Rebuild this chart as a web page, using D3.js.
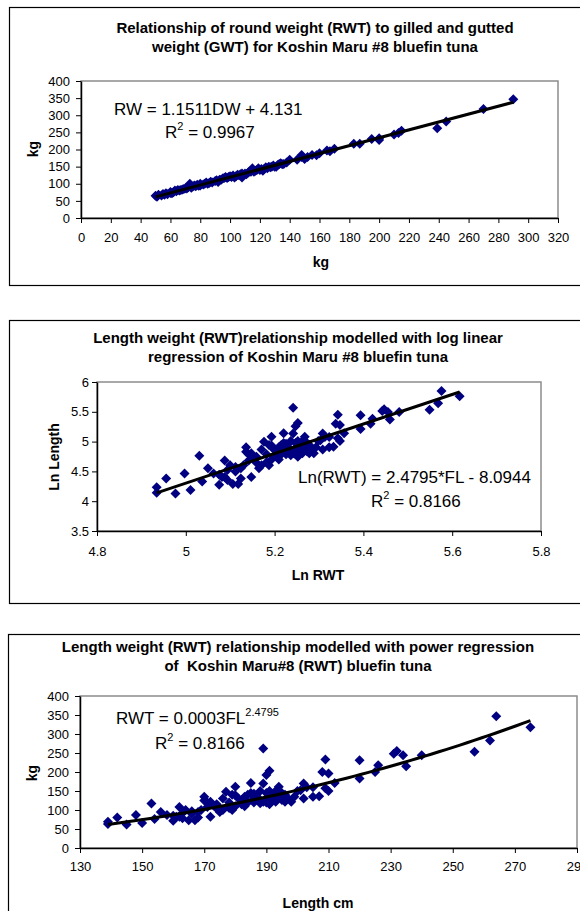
<!DOCTYPE html>
<html>
<head>
<meta charset="utf-8">
<script src="https://cdn.jsdelivr.net/npm/d3@7"></script>
<style>
  body { margin: 0; background: #fff; }
  svg { display: block; font-family: "Liberation Sans", Arial, sans-serif; }
</style>
</head>
<body>
<div id="chart"></div>
<script>
// panel 1: gilled and gutted weight (x) vs round weight (y), kg
var gwt = [50, 51, 52, 54, 55, 57, 58, 60, 60, 62, 63, 64, 65, 66, 67, 68, 70, 71, 72, 73, 73, 75, 76, 77, 78, 80, 80, 82, 83, 84,
  85, 86, 88, 90, 91, 92, 94, 95, 96, 97, 98, 100, 101, 102, 104, 105, 106, 108, 108, 110, 112, 114, 115, 115, 116, 118, 120, 121, 122, 124,
  125, 127, 128, 130, 132, 134, 135, 138, 140, 145, 148, 148, 150, 152, 155, 158, 160, 165, 167, 170, 183, 187, 195, 200, 200, 210, 213, 215, 239, 245,
  270, 290, 56, 61, 69, 74, 79, 87, 93, 99, 103, 107, 111, 113, 117, 119, 123, 126, 129, 131, 133, 136];
var rwt = [65, 62, 68, 66, 70, 72, 69, 73, 76, 75, 80, 78, 82, 80, 82, 83, 87, 86, 90, 95, 100, 92, 95, 93, 97, 95, 100, 98, 100, 104,
  100, 102, 104, 108, 110, 105, 112, 115, 117, 120, 117, 122, 120, 124, 122, 126, 125, 118, 130, 130, 132, 135, 140, 145, 135, 140, 140, 143, 138, 148,
  145, 148, 150, 150, 155, 160, 157, 162, 170, 170, 184, 178, 172, 178, 184, 183, 189, 197, 195, 202, 217, 217, 231, 233, 228, 244, 248, 255, 262, 282,
  318, 347, 68, 72, 85, 88, 94, 106, 112, 120, 118, 128, 128, 136, 138, 145, 144, 150, 153, 150, 158, 158];

// panels 2 and 3: fork length (cm) vs round weight (kg)
var lengthCm = [139, 139, 142, 145, 148, 150, 153, 154, 156, 158, 160, 161, 162, 162, 163, 164, 165, 166, 167, 168, 168, 169, 170, 170, 171, 172, 172, 173, 174, 175,
  176, 176, 177, 178, 179, 179, 180, 180, 180, 181, 182, 182, 183, 184, 185, 185, 186, 186, 187, 188, 188, 189, 189, 189, 190, 190, 190, 191, 191, 192,
  192, 193, 193, 194, 194, 195, 196, 196, 198, 199, 200, 201, 202, 202, 203, 205, 205, 207, 208, 209, 209, 210, 210, 212, 220, 220, 225, 226, 231, 232,
  234, 235, 240, 257, 262, 264, 275, 184, 187, 190, 191, 193, 195, 197, 178, 183, 186, 174, 171, 166, 163, 160];
var weightKg = [69, 63, 80, 62, 87, 66, 117, 76, 95, 87, 72, 82, 108, 82, 92, 100, 73, 97, 73, 95, 80, 100, 135, 125, 108, 82, 122, 112, 104, 95,
  130, 100, 148, 120, 140, 100, 161, 110, 139, 130, 126, 115, 135, 120, 171, 145, 130, 143, 126, 150, 118, 262, 170, 122, 192, 145, 130, 203, 115, 139,
  125, 150, 122, 161, 135, 126, 140, 122, 122, 135, 150, 152, 170, 130, 160, 135, 160, 136, 200, 233, 157, 196, 150, 171, 231, 183, 200, 218, 248, 255,
  244, 215, 244, 253, 283, 347, 318, 140, 135, 120, 150, 130, 145, 130, 105, 110, 120, 115, 120, 90, 78, 85];

var ticks1X = [0, 20, 40, 60, 80, 100, 120, 140, 160, 180, 200, 220, 240, 260, 280, 300, 320];
var ticks1Y = [0, 50, 100, 150, 200, 250, 300, 350, 400];
var ticks2X = [4.8, 5, 5.2, 5.4, 5.6, 5.8];
var ticks2Y = [3.5, 4, 4.5, 5, 5.5, 6];
var ticks3X = [130, 150, 170, 190, 210, 230, 250, 270, 290];
var ticks3Y = [0, 50, 100, 150, 200, 250, 300, 350, 400];

// fitted trend coefficients as printed on the charts
var linFit = { slope: 1.1511, intercept: 4.131 };
var logFit = { slope: 2.4795, intercept: -8.0944 };
var powFit = { a: 0.0003, b: 2.4795 };

var svg = d3.select("#chart").append("svg")
  .attr("width", 580)
  .attr("height", 911);

var diamond = "M0,-5L5,0L0,5L-5,0Z";
var fmt = function(d) { return String(+d.toFixed(1)); };

function panel(o) {
  var g = svg.append("g");
  var p = o.plot;

  // outer frame (runs off the right edge like the original)
  g.append("rect")
    .attr("x", o.frame[0]).attr("y", o.frame[1])
    .attr("width", 700).attr("height", o.frame[2] - o.frame[1])
    .attr("fill", "#fff").attr("stroke", "#000").attr("stroke-width", 1.2);

  // titles
  o.title.forEach(function(t, i) {
    g.append("text")
      .attr("x", o.titleX).attr("y", o.titleY + i * 19)
      .attr("text-anchor", "middle")
      .style("font-size", "15px").style("font-weight", "bold")
      .style("white-space", "pre")
      .text(t);
  });

  var x = d3.scaleLinear().domain(o.xDomain).range([p.left, p.right]);
  var y = d3.scaleLinear().domain(o.yDomain).range([p.bottom, p.top]);

  // plot area, grey border on top and right
  g.append("rect")
    .attr("x", p.left).attr("y", p.top)
    .attr("width", p.right - p.left).attr("height", p.bottom - p.top)
    .attr("fill", "#fff").attr("stroke", "#8c8c8c").attr("stroke-width", 1.5);

  var xa = g.append("g")
    .attr("transform", "translate(0," + p.bottom + ")")
    .call(d3.axisBottom(x).tickValues(o.xTicks).tickSize(5).tickSizeOuter(0).tickPadding(o.xPad).tickFormat(fmt));
  var ya = g.append("g")
    .attr("transform", "translate(" + p.left + ",0)")
    .call(d3.axisLeft(y).tickValues(o.yTicks).tickSize(5).tickSizeOuter(0).tickPadding(o.yPad).tickFormat(fmt));
  [xa, ya].forEach(function(a) {
    a.attr("font-family", null).attr("font-size", null);
    a.selectAll("text").style("font-size", "13px").attr("fill", "#000");
    a.select(".domain").attr("stroke-width", 1.5);
  });

  // axis titles
  g.append("text")
    .attr("x", o.xTitle[0]).attr("y", o.xTitle[1])
    .attr("text-anchor", "middle")
    .style("font-size", "14px").style("font-weight", "bold")
    .text(o.xLabel);
  g.append("text")
    .attr("transform", "translate(" + o.yTitle[0] + "," + o.yTitle[1] + ") rotate(-90)")
    .attr("text-anchor", "middle")
    .style("font-size", "14px").style("font-weight", "bold")
    .text(o.yLabel);

  // points
  g.append("g").selectAll("path")
    .data(o.xs)
    .enter()
    .append("path")
    .attr("d", diamond)
    .attr("transform", function(d, i) { return "translate(" + x(d) + "," + y(o.ys[i]) + ")"; })
    .attr("fill", "#000080");

  // trend line
  var lo = d3.min(o.xs), hi = d3.max(o.xs);
  var xsFit = o.curve ? d3.range(lo, hi, (hi - lo) / 60).concat([hi]) : [lo, hi];
  g.append("path")
    .datum(xsFit)
    .attr("d", d3.line().x(function(d) { return x(d); }).y(function(d) { return y(o.fit(d)); }))
    .attr("fill", "none").attr("stroke", "#000").attr("stroke-width", 3);

  // equation labels
  o.notes.forEach(function(n) {
    var t = g.append("text")
      .attr("x", n.x).attr("y", n.y)
      .style("font-size", "17px");
    n.parts.forEach(function(s) {
      var ts = t.append("tspan").text(s[0]);
      if (s[1] === "sup") ts.attr("dy", -8).style("font-size", "11px");
      if (s[1] === "down") ts.attr("dy", 8);
    });
  });
}

panel({
  frame: [9.5, 7.5, 285.5],
  title: ["Relationship of round weight (RWT) to gilled and gutted",
          "weight (GWT) for Koshin Maru #8 bluefin tuna"],
  titleX: 315, titleY: 33,
  plot: { left: 81, right: 558, top: 81, bottom: 218 },
  xDomain: [0, 320], yDomain: [0, 400],
  xTicks: ticks1X, yTicks: ticks1Y, xPad: 10, yPad: 6,
  xLabel: "kg", yLabel: "kg", xTitle: [321, 267], yTitle: [38, 149],
  xs: gwt, ys: rwt,
  fit: function(v) { return linFit.slope * v + linFit.intercept; },
  notes: [
    { x: 114, y: 115, parts: [["RW = 1.1511DW + 4.131"]] },
    { x: 165, y: 138, parts: [["R"], ["2", "sup"], [" = 0.9967", "down"]] }
  ]
});

panel({
  frame: [9.5, 320.5, 603.5],
  title: ["Length weight (RWT)relationship modelled with log linear",
          "regression of Koshin Maru #8 bluefin tuna"],
  titleX: 298, titleY: 343,
  plot: { left: 97, right: 541, top: 382, bottom: 531 },
  xDomain: [4.8, 5.8], yDomain: [3.5, 6],
  xTicks: ticks2X, yTicks: ticks2Y, xPad: 11, yPad: 3,
  xLabel: "Ln RWT", yLabel: "Ln Length", xTitle: [318, 580], yTitle: [59, 457],
  xs: lengthCm.map(Math.log), ys: weightKg.map(Math.log),
  fit: function(v) { return logFit.slope * v + logFit.intercept; },
  notes: [
    { x: 298, y: 483, parts: [["Ln(RWT) = 2.4795*FL - 8.0944"]] },
    { x: 371, y: 507, parts: [["R"], ["2", "sup"], [" = 0.8166", "down"]] }
  ]
});

panel({
  frame: [8.5, 634.5, 940],
  title: ["Length weight (RWT) relationship modelled with power regression",
          "of  Koshin Maru#8 (RWT) bluefin tuna"],
  titleX: 298, titleY: 652,
  plot: { left: 80, right: 577, top: 696, bottom: 848 },
  xDomain: [130, 290], yDomain: [0, 400],
  xTicks: ticks3X, yTicks: ticks3Y, xPad: 9, yPad: 6,
  xLabel: "Length cm", yLabel: "kg", xTitle: [318, 908], yTitle: [37, 773],
  xs: lengthCm, ys: weightKg, curve: true,
  fit: function(v) { return powFit.a * Math.pow(v, powFit.b); },
  notes: [
    { x: 116, y: 724, parts: [["RWT = 0.0003FL"], ["2.4795", "sup"]] },
    { x: 155, y: 749, parts: [["R"], ["2", "sup"], [" = 0.8166", "down"]] }
  ]
});
</script>
</body>
</html>
